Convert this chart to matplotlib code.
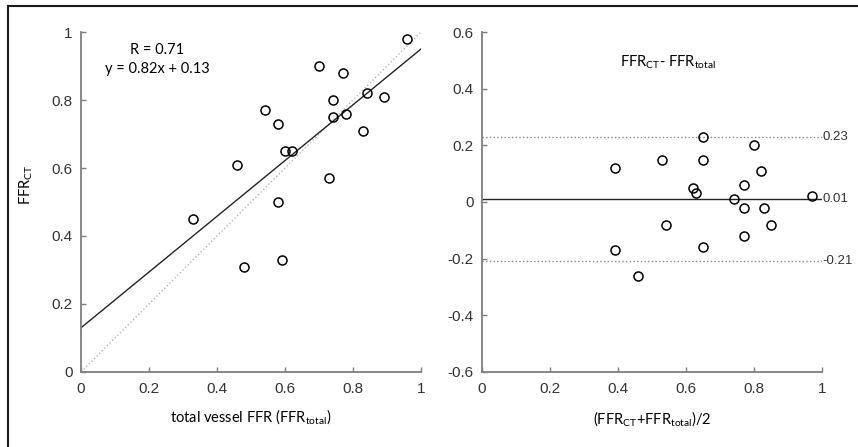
import matplotlib
matplotlib.use("Agg")
import matplotlib.pyplot as plt
from matplotlib.lines import Line2D

# left panel: FFR_total vs FFR_CT
ffr_total = [0.33, 0.46, 0.48, 0.54, 0.58, 0.58, 0.59, 0.60, 0.62, 0.70,
             0.73, 0.74, 0.74, 0.77, 0.78, 0.83, 0.84, 0.89, 0.96]
ffr_ct = [0.45, 0.61, 0.31, 0.77, 0.73, 0.50, 0.33, 0.65, 0.65, 0.90,
          0.57, 0.80, 0.75, 0.88, 0.76, 0.71, 0.82, 0.81, 0.98]
slope = 0.82
intercept = 0.13

# right panel: Bland-Altman
ba_mean = [0.39, 0.39, 0.46, 0.53, 0.54, 0.62, 0.63, 0.65, 0.65, 0.65,
           0.74, 0.77, 0.77, 0.77, 0.80, 0.82, 0.83, 0.85, 0.97]
ba_diff = [0.12, -0.17, -0.26, 0.15, -0.08, 0.05, 0.03, 0.23, 0.15, -0.16,
           0.01, 0.06, -0.02, -0.12, 0.20, 0.11, -0.02, -0.08, 0.02]
bias = 0.01
upper_loa = 0.23
lower_loa = -0.21

left_yticks = [0, 0.2, 0.4, 0.6, 0.8, 1]
left_ylabels = ["0", "0.2", "0.4", "0.6", "0.8", "1"]
xticks = [0, 0.2, 0.4, 0.6, 0.8, 1]
xlabels = ["0", "0.2", "0.4", "0.6", "0.8", "1"]
right_yticks = [-0.6, -0.4, -0.2, 0, 0.2, 0.4, 0.6]
right_ylabels = ["-0.6", "-0.4", "-0.2", "0", "0.2", "0.4", "0.6"]

plt.rcParams["mathtext.default"] = "regular"
label_font = ["Lato", "DejaVu Sans"]
tick_font = ["Liberation Sans", "DejaVu Sans"]
spine_col = "#7f7f7f"

fig = plt.figure(figsize=(8.58, 4.47), dpi=100)
ax1 = fig.add_axes([0.0944, 0.1678, 0.3963, 0.7606])
ax2 = fig.add_axes([0.5618, 0.1678, 0.3963, 0.7606])

for ax in (ax1, ax2):
    ax.spines["top"].set_visible(False)
    ax.spines["right"].set_visible(False)
    for s in ("left", "bottom"):
        ax.spines[s].set_color(spine_col)
        ax.spines[s].set_linewidth(1.3)
    ax.tick_params(direction="in", length=3.5, width=1, color=spine_col,
                   labelsize=11, labelcolor="#333333", pad=6)
    ax.set_xlim(0, 1)
    ax.set_xticks(xticks)
    ax.set_xticklabels(xlabels, fontfamily=tick_font)
    ax.tick_params(axis="x", pad=7)

# left scatter
ax1.plot([0, 1], [0, 1], linestyle=":", color="#b5b5b5", linewidth=1)
ax1.plot([0, 1], [intercept, slope + intercept], color="#222222", linewidth=1)
ax1.plot(ffr_total, ffr_ct, "o", markersize=6.5, markerfacecolor="none",
         markeredgecolor="black", markeredgewidth=1.1)
ax1.set_ylim(0, 1)
ax1.set_yticks(left_yticks)
ax1.set_yticklabels(left_ylabels, fontfamily=tick_font)
ax1.set_xlabel("total vessel FFR (FFR$_{total}$)", fontsize=10.5,
               fontfamily=label_font, labelpad=8)
ax1.set_ylabel("FFR$_{CT}$", fontsize=10.5, fontfamily=label_font)
ax1.yaxis.set_label_coords(-0.135, 0.55)
ax1.text(0.225, 0.948, "R = 0.71", ha="center", va="center",
         fontsize=10.5, fontfamily=label_font)
ax1.text(0.225, 0.89, "y = 0.82x + 0.13", ha="center", va="center",
         fontsize=10.5, fontfamily=label_font)

# right Bland-Altman
ax2.axhline(bias, color="#222222", linewidth=1)
ax2.axhline(upper_loa, color="#888888", linestyle=":", linewidth=1)
ax2.axhline(lower_loa, color="#888888", linestyle=":", linewidth=1)
ax2.plot(ba_mean, ba_diff, "o", markersize=6.5, markerfacecolor="none",
         markeredgecolor="black", markeredgewidth=1.1)
ax2.set_ylim(-0.6, 0.6)
ax2.set_yticks(right_yticks)
ax2.set_yticklabels(right_ylabels, fontfamily=tick_font)
ax2.set_xlabel("(FFR$_{CT}$+FFR$_{total}$)/2", fontsize=10.5,
               fontfamily=label_font, labelpad=10)
for val, txt in [(upper_loa, "0.23"), (bias, "0.01"), (lower_loa, "-0.21")]:
    ax2.text(1.0, val, txt, ha="left", va="center", fontsize=9.5,
             color="#333333", fontfamily=tick_font, clip_on=False)
ax2.text(0.548, 0.493, "FFR$_{CT}$- FFR$_{total}$", ha="center", va="center",
         fontsize=10.5, fontfamily=label_font)

# frame lines of the cropped figure (left and top only)
fig.add_artist(Line2D([0.0099, 0.0099], [0, 0.9855], transform=fig.transFigure,
                      color="#1a1a1a", linewidth=1.5))
fig.add_artist(Line2D([0.0099, 1], [0.9855, 0.9855], transform=fig.transFigure,
                      color="#1a1a1a", linewidth=1.5))

fig.savefig("out.png", dpi=100)
